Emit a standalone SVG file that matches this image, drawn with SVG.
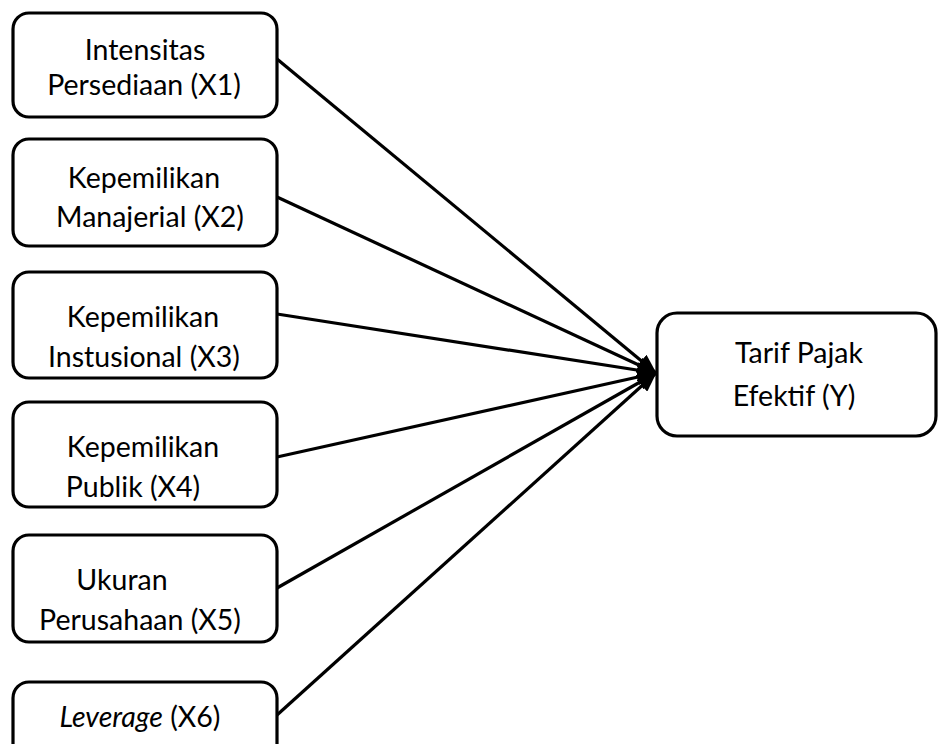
<svg xmlns="http://www.w3.org/2000/svg" width="939" height="744" viewBox="0 0 939 744">
<style>
.box{fill:#fff;stroke:#000;stroke-width:3.2}
.t{font-family:Lato,"Liberation Sans",sans-serif;font-size:28.5px;fill:#000;text-anchor:middle}
.c{stroke:#000;stroke-width:3.2;fill:none;marker-end:url(#ah)}
</style>
<defs>
<marker id="ah" markerUnits="userSpaceOnUse" viewBox="0 0 20 16" refX="19" refY="8" markerWidth="20" markerHeight="16" orient="auto">
<path d="M0,0 L20,8 L0,16 z" fill="#000"/>
</marker>
</defs>
<rect width="939" height="744" fill="#fff"/>
<g id="connectors">
<line class="c" x1="277" y1="59" x2="656" y2="373"/>
<line class="c" x1="277" y1="197" x2="656" y2="373"/>
<line class="c" x1="277" y1="314" x2="656" y2="373"/>
<line class="c" x1="277" y1="457" x2="656" y2="373"/>
<line class="c" x1="277" y1="588" x2="656" y2="373"/>
<line class="c" x1="277" y1="715" x2="656" y2="373"/>
</g>
<g id="x1">
<rect class="box" x="13" y="13" width="264" height="104" rx="16"/>
<text class="t" x="145" y="60">Intensitas</text>
<text class="t" x="144" y="95">Persediaan (X1)</text>
</g>
<g id="x2">
<rect class="box" x="13" y="139" width="264" height="107" rx="16"/>
<text class="t" x="144" y="188">Kepemilikan</text>
<text class="t" x="150" y="227">Manajerial (X2)</text>
</g>
<g id="x3">
<rect class="box" x="13" y="272" width="264" height="106" rx="16"/>
<text class="t" x="143" y="327">Kepemilikan</text>
<text class="t" x="144" y="367">Instusional (X3)</text>
</g>
<g id="x4">
<rect class="box" x="13" y="402" width="264" height="105" rx="16"/>
<text class="t" x="143" y="457">Kepemilikan</text>
<text class="t" x="133" y="497">Publik (X4)</text>
</g>
<g id="x5">
<rect class="box" x="13" y="535" width="264" height="107" rx="16"/>
<text class="t" x="122" y="590">Ukuran</text>
<text class="t" x="140" y="630">Perusahaan (X5)</text>
</g>
<g id="x6">
<rect class="box" x="13" y="682" width="264" height="104" rx="16"/>
<text class="t" x="140" y="727"><tspan font-style="italic">Leverage</tspan> (X6)</text>
</g>
<g id="y">
<rect class="box" x="657" y="313" width="279" height="123" rx="20"/>
<text class="t" x="799" y="363">Tarif Pajak</text>
<text class="t" x="794" y="406">Efektif (Y)</text>
</g>
</svg>
